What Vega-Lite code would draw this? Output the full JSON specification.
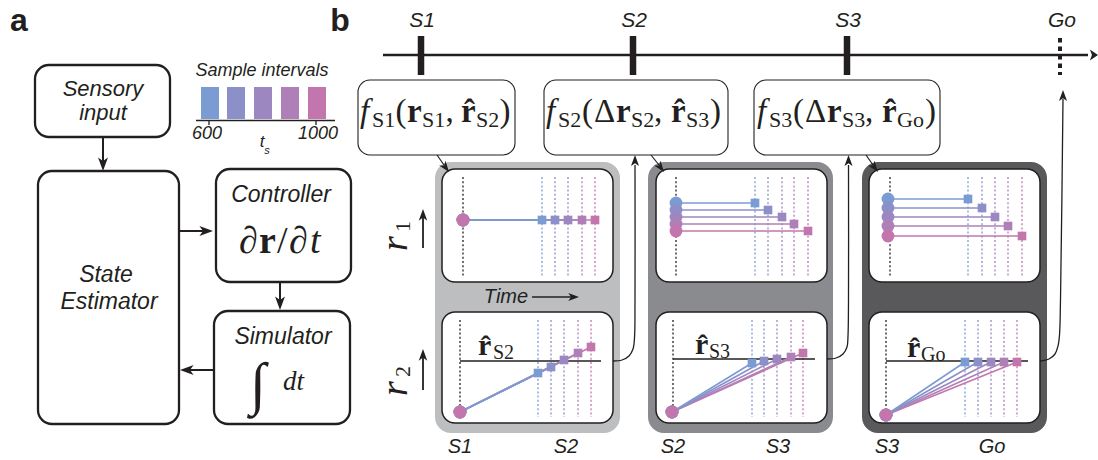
{
  "$schema": "https://vega.github.io/schema/vega-lite/v6.json",
  "width": 1098,
  "height": 460,
  "autosize": {"type": "fit", "contains": "padding"},
  "padding": 0,
  "background": "white",
  "config": {"view": {"stroke": null}},
  "encoding": {
    "x": {"field": "x", "type": "quantitative", "scale": {"domain": [0, 1098], "nice": false, "zero": false}, "axis": null},
    "y": {"field": "y", "type": "quantitative", "scale": {"domain": [460, 0], "nice": false, "zero": false}, "axis": null}
  },
  "layer": [
    {
      "data": {"values": [
        {"x": 435, "x2": 620, "y": 162, "y2": 433, "f": "#bcbec0"},
        {"x": 648, "x2": 833, "y": 162, "y2": 433, "f": "#8a8b8e"},
        {"x": 862, "x2": 1047, "y": 162, "y2": 433, "f": "#59595b"}
      ]},
      "mark": {"type": "rect", "cornerRadius": 16},
      "encoding": {
        "x2": {"field": "x2"}, "y2": {"field": "y2"},
        "fill": {"field": "f", "type": "nominal", "scale": null}
      }
    },
    {
      "data": {"values": [
        {"x": 442, "x2": 613, "y": 169, "y2": 282},
        {"x": 442, "x2": 613, "y": 312, "y2": 423},
        {"x": 656, "x2": 827, "y": 169, "y2": 282},
        {"x": 656, "x2": 827, "y": 312, "y2": 423},
        {"x": 869, "x2": 1040, "y": 169, "y2": 282},
        {"x": 869, "x2": 1040, "y": 312, "y2": 423}
      ]},
      "mark": {"type": "rect", "cornerRadius": 13, "fill": "white", "stroke": "#231f20", "strokeWidth": 1.5},
      "encoding": {"x2": {"field": "x2"}, "y2": {"field": "y2"}}
    },
    {
      "data": {"values": [
        {"x": 35, "x2": 170, "y": 65, "y2": 137},
        {"x": 38, "x2": 179, "y": 171, "y2": 424},
        {"x": 216, "x2": 351, "y": 169, "y2": 282},
        {"x": 214, "x2": 350, "y": 311, "y2": 424}
      ]},
      "mark": {"type": "rect", "cornerRadius": 14, "fill": "white", "stroke": "#231f20", "strokeWidth": 2.3},
      "encoding": {"x2": {"field": "x2"}, "y2": {"field": "y2"}}
    },
    {
      "data": {"values": [
        {"x": 358, "x2": 515, "y": 80, "y2": 155},
        {"x": 544, "x2": 728, "y": 80, "y2": 155},
        {"x": 754, "x2": 940, "y": 80, "y2": 155}
      ]},
      "mark": {"type": "rect", "cornerRadius": 12, "fill": "white", "stroke": "#231f20", "strokeWidth": 1.1},
      "encoding": {"x2": {"field": "x2"}, "y2": {"field": "y2"}}
    },
    {
      "data": {"values": [
        {"x": 201, "x2": 219, "y": 87, "y2": 119, "c": "#7b9bd3"},
        {"x": 227, "x2": 245, "y": 87, "y2": 119, "c": "#8b90c8"},
        {"x": 254, "x2": 272, "y": 87, "y2": 119, "c": "#9d87c0"},
        {"x": 281, "x2": 299, "y": 87, "y2": 119, "c": "#af80b7"},
        {"x": 308, "x2": 326, "y": 87, "y2": 119, "c": "#c376ae"}
      ]},
      "mark": {"type": "rect"},
      "encoding": {
        "x2": {"field": "x2"}, "y2": {"field": "y2"},
        "fill": {"field": "c", "type": "nominal", "scale": null}
      }
    },
    {
      "data": {"values": [
        {"x": 463, "y": 177, "y2": 277, "c": "#231f20"},
        {"x": 542, "y": 177, "y2": 277, "c": "#7b9bd3"},
        {"x": 555, "y": 177, "y2": 277, "c": "#8b90c8"},
        {"x": 568, "y": 177, "y2": 277, "c": "#9d87c0"},
        {"x": 582, "y": 177, "y2": 277, "c": "#af80b7"},
        {"x": 595, "y": 177, "y2": 277, "c": "#c376ae"},
        {"x": 460, "y": 320, "y2": 417, "c": "#231f20"},
        {"x": 538, "y": 320, "y2": 417, "c": "#7b9bd3"},
        {"x": 551, "y": 320, "y2": 417, "c": "#8b90c8"},
        {"x": 564, "y": 320, "y2": 417, "c": "#9d87c0"},
        {"x": 578, "y": 320, "y2": 417, "c": "#af80b7"},
        {"x": 591, "y": 320, "y2": 417, "c": "#c376ae"},
        {"x": 676, "y": 177, "y2": 277, "c": "#231f20"},
        {"x": 755, "y": 177, "y2": 277, "c": "#7b9bd3"},
        {"x": 768, "y": 177, "y2": 277, "c": "#8b90c8"},
        {"x": 782, "y": 177, "y2": 277, "c": "#9d87c0"},
        {"x": 794, "y": 177, "y2": 277, "c": "#af80b7"},
        {"x": 808, "y": 177, "y2": 277, "c": "#c376ae"},
        {"x": 673, "y": 320, "y2": 417, "c": "#231f20"},
        {"x": 752, "y": 320, "y2": 417, "c": "#7b9bd3"},
        {"x": 764, "y": 320, "y2": 417, "c": "#8b90c8"},
        {"x": 777, "y": 320, "y2": 417, "c": "#9d87c0"},
        {"x": 791, "y": 320, "y2": 417, "c": "#af80b7"},
        {"x": 803, "y": 320, "y2": 417, "c": "#c376ae"},
        {"x": 890, "y": 177, "y2": 277, "c": "#231f20"},
        {"x": 968, "y": 177, "y2": 277, "c": "#7b9bd3"},
        {"x": 982, "y": 177, "y2": 277, "c": "#8b90c8"},
        {"x": 995, "y": 177, "y2": 277, "c": "#9d87c0"},
        {"x": 1008, "y": 177, "y2": 277, "c": "#af80b7"},
        {"x": 1022, "y": 177, "y2": 277, "c": "#c376ae"},
        {"x": 886, "y": 320, "y2": 417, "c": "#231f20"},
        {"x": 965, "y": 320, "y2": 417, "c": "#7b9bd3"},
        {"x": 978, "y": 320, "y2": 417, "c": "#8b90c8"},
        {"x": 991, "y": 320, "y2": 417, "c": "#9d87c0"},
        {"x": 1004, "y": 320, "y2": 417, "c": "#af80b7"},
        {"x": 1017, "y": 320, "y2": 417, "c": "#c376ae"}
      ]},
      "mark": {"type": "rule", "strokeDash": [2, 2.2], "strokeWidth": 1.3},
      "encoding": {
        "y2": {"field": "y2"},
        "color": {"field": "c", "type": "nominal", "scale": null}
      }
    },
    {
      "data": {"values": [
        {"x": 383, "y": 55, "x2": 1088, "y2": 55, "w": 2.6},
        {"x": 421, "y": 36, "x2": 421, "y2": 75, "w": 6.5},
        {"x": 633, "y": 36, "x2": 633, "y2": 75, "w": 6.5},
        {"x": 847, "y": 36, "x2": 847, "y2": 75, "w": 6.5},
        {"x": 196, "y": 120.5, "x2": 335, "y2": 120.5, "w": 1.6},
        {"x": 209, "y": 120, "x2": 209, "y2": 125, "w": 1.3},
        {"x": 316, "y": 120, "x2": 316, "y2": 125, "w": 1.3},
        {"x": 103, "y": 137, "x2": 103, "y2": 163, "w": 2},
        {"x": 179, "y": 231, "x2": 205, "y2": 231, "w": 2},
        {"x": 280, "y": 282, "x2": 280, "y2": 302, "w": 2},
        {"x": 214, "y": 370, "x2": 188, "y2": 370, "w": 2},
        {"x": 532, "y": 297, "x2": 572, "y2": 297, "w": 1.5},
        {"x": 423, "y": 248, "x2": 423, "y2": 217, "w": 1.8},
        {"x": 423, "y": 390, "x2": 423, "y2": 357, "w": 1.8},
        {"x": 437, "y": 155, "x2": 444, "y2": 165, "w": 1.2},
        {"x": 651, "y": 155, "x2": 659, "y2": 165, "w": 1.2},
        {"x": 866, "y": 155, "x2": 873, "y2": 165, "w": 1.2},
        {"x": 460, "y": 361, "x2": 601, "y2": 361, "w": 1.3},
        {"x": 673, "y": 359, "x2": 815, "y2": 359, "w": 1.3},
        {"x": 886, "y": 361, "x2": 1028, "y2": 361, "w": 1.3}
      ]},
      "mark": {"type": "rule", "color": "#231f20"},
      "encoding": {
        "x2": {"field": "x2"}, "y2": {"field": "y2"},
        "strokeWidth": {"field": "w", "type": "quantitative", "scale": null}
      }
    },
    {
      "data": {"values": [{"x": 1060, "y": 38, "y2": 75}]},
      "mark": {"type": "rule", "color": "#231f20", "strokeWidth": 4, "strokeDash": [4.5, 4]},
      "encoding": {"y2": {"field": "y2"}}
    },
    {
      "data": {"values": [
        {"x": 463, "y": 220, "x2": 595, "y2": 220, "c": "#c376ae"},
        {"x": 463, "y": 220, "x2": 582, "y2": 220, "c": "#af80b7"},
        {"x": 463, "y": 220, "x2": 568, "y2": 220, "c": "#9d87c0"},
        {"x": 463, "y": 220, "x2": 555, "y2": 220, "c": "#8b90c8"},
        {"x": 463, "y": 220, "x2": 542, "y2": 220, "c": "#7b9bd3"},
        {"x": 460, "y": 412, "x2": 591, "y2": 347, "c": "#c376ae"},
        {"x": 460, "y": 412, "x2": 578, "y2": 353, "c": "#af80b7"},
        {"x": 460, "y": 412, "x2": 564, "y2": 360, "c": "#9d87c0"},
        {"x": 460, "y": 412, "x2": 551, "y2": 367, "c": "#8b90c8"},
        {"x": 460, "y": 412, "x2": 538, "y2": 373, "c": "#7b9bd3"},
        {"x": 676, "y": 231, "x2": 808, "y2": 231, "c": "#c376ae"},
        {"x": 676, "y": 224, "x2": 794, "y2": 224, "c": "#af80b7"},
        {"x": 676, "y": 217, "x2": 782, "y2": 217, "c": "#9d87c0"},
        {"x": 676, "y": 210, "x2": 768, "y2": 210, "c": "#8b90c8"},
        {"x": 676, "y": 203, "x2": 755, "y2": 203, "c": "#7b9bd3"},
        {"x": 672, "y": 412, "x2": 803, "y2": 353, "c": "#c376ae"},
        {"x": 672, "y": 412, "x2": 791, "y2": 357, "c": "#af80b7"},
        {"x": 672, "y": 412, "x2": 777, "y2": 359, "c": "#9d87c0"},
        {"x": 672, "y": 412, "x2": 764, "y2": 361, "c": "#8b90c8"},
        {"x": 672, "y": 412, "x2": 752, "y2": 363, "c": "#7b9bd3"},
        {"x": 888, "y": 236, "x2": 1022, "y2": 236, "c": "#c376ae"},
        {"x": 888, "y": 226, "x2": 1008, "y2": 226, "c": "#af80b7"},
        {"x": 888, "y": 217, "x2": 995, "y2": 217, "c": "#9d87c0"},
        {"x": 888, "y": 208, "x2": 982, "y2": 208, "c": "#8b90c8"},
        {"x": 888, "y": 199, "x2": 968, "y2": 199, "c": "#7b9bd3"},
        {"x": 886, "y": 415, "x2": 1017, "y2": 362, "c": "#c376ae"},
        {"x": 886, "y": 415, "x2": 1004, "y2": 362, "c": "#af80b7"},
        {"x": 886, "y": 415, "x2": 991, "y2": 362, "c": "#9d87c0"},
        {"x": 886, "y": 415, "x2": 978, "y2": 362, "c": "#8b90c8"},
        {"x": 886, "y": 415, "x2": 965, "y2": 362, "c": "#7b9bd3"}
      ]},
      "mark": {"type": "rule", "strokeWidth": 1.6},
      "encoding": {
        "x2": {"field": "x2"}, "y2": {"field": "y2"},
        "color": {"field": "c", "type": "nominal", "scale": null}
      }
    },
    {
      "data": {"values": [
        {"g": 1, "o": 1, "x": 613, "y": 361}, {"g": 1, "o": 2, "x": 622, "y": 360}, {"g": 1, "o": 3, "x": 629, "y": 356},
        {"g": 1, "o": 4, "x": 633, "y": 349}, {"g": 1, "o": 5, "x": 634.5, "y": 338}, {"g": 1, "o": 6, "x": 635, "y": 300}, {"g": 1, "o": 7, "x": 635, "y": 165},
        {"g": 2, "o": 1, "x": 827, "y": 359}, {"g": 2, "o": 2, "x": 836, "y": 358}, {"g": 2, "o": 3, "x": 843, "y": 354},
        {"g": 2, "o": 4, "x": 847, "y": 347}, {"g": 2, "o": 5, "x": 848, "y": 336}, {"g": 2, "o": 6, "x": 848.5, "y": 300}, {"g": 2, "o": 7, "x": 848.5, "y": 165},
        {"g": 3, "o": 1, "x": 1040, "y": 361}, {"g": 3, "o": 2, "x": 1049, "y": 359}, {"g": 3, "o": 3, "x": 1055, "y": 354},
        {"g": 3, "o": 4, "x": 1058, "y": 346}, {"g": 3, "o": 5, "x": 1059.5, "y": 335}, {"g": 3, "o": 6, "x": 1060.5, "y": 300}, {"g": 3, "o": 7, "x": 1063, "y": 99}
      ]},
      "mark": {"type": "line", "interpolate": "catmull-rom", "color": "#231f20", "strokeWidth": 1.3},
      "encoding": {
        "detail": {"field": "g", "type": "nominal"},
        "order": {"field": "o", "type": "quantitative"}
      }
    },
    {
      "data": {"values": [
        {"x": 463, "y": 220, "c": "#7b9bd3"}, {"x": 463, "y": 220, "c": "#8b90c8"}, {"x": 463, "y": 220, "c": "#9d87c0"}, {"x": 463, "y": 220, "c": "#af80b7"}, {"x": 463, "y": 220, "c": "#c376ae"},
        {"x": 460, "y": 412, "c": "#7b9bd3"}, {"x": 460, "y": 412, "c": "#8b90c8"}, {"x": 460, "y": 412, "c": "#9d87c0"}, {"x": 460, "y": 412, "c": "#af80b7"}, {"x": 460, "y": 412, "c": "#c376ae"},
        {"x": 676, "y": 203, "c": "#7b9bd3"}, {"x": 676, "y": 210, "c": "#8b90c8"}, {"x": 676, "y": 217, "c": "#9d87c0"}, {"x": 676, "y": 224, "c": "#af80b7"}, {"x": 676, "y": 231, "c": "#c376ae"},
        {"x": 672, "y": 412, "c": "#7b9bd3"}, {"x": 672, "y": 412, "c": "#8b90c8"}, {"x": 672, "y": 412, "c": "#9d87c0"}, {"x": 672, "y": 412, "c": "#af80b7"}, {"x": 672, "y": 412, "c": "#c376ae"},
        {"x": 888, "y": 199, "c": "#7b9bd3"}, {"x": 888, "y": 208, "c": "#8b90c8"}, {"x": 888, "y": 217, "c": "#9d87c0"}, {"x": 888, "y": 226, "c": "#af80b7"}, {"x": 888, "y": 236, "c": "#c376ae"},
        {"x": 886, "y": 415, "c": "#7b9bd3"}, {"x": 886, "y": 415, "c": "#8b90c8"}, {"x": 886, "y": 415, "c": "#9d87c0"}, {"x": 886, "y": 415, "c": "#af80b7"}, {"x": 886, "y": 415, "c": "#c376ae"}
      ]},
      "mark": {"type": "point", "shape": "circle", "filled": true, "size": 165, "opacity": 1, "strokeWidth": 0},
      "encoding": {"color": {"field": "c", "type": "nominal", "scale": null}}
    },
    {
      "data": {"values": [
        {"x": 542, "y": 220, "c": "#7b9bd3"}, {"x": 555, "y": 220, "c": "#8b90c8"}, {"x": 568, "y": 220, "c": "#9d87c0"}, {"x": 582, "y": 220, "c": "#af80b7"}, {"x": 595, "y": 220, "c": "#c376ae"},
        {"x": 538, "y": 373, "c": "#7b9bd3"}, {"x": 551, "y": 367, "c": "#8b90c8"}, {"x": 564, "y": 360, "c": "#9d87c0"}, {"x": 578, "y": 353, "c": "#af80b7"}, {"x": 591, "y": 347, "c": "#c376ae"},
        {"x": 755, "y": 203, "c": "#7b9bd3"}, {"x": 768, "y": 210, "c": "#8b90c8"}, {"x": 782, "y": 217, "c": "#9d87c0"}, {"x": 794, "y": 224, "c": "#af80b7"}, {"x": 808, "y": 231, "c": "#c376ae"},
        {"x": 752, "y": 363, "c": "#7b9bd3"}, {"x": 764, "y": 361, "c": "#8b90c8"}, {"x": 777, "y": 359, "c": "#9d87c0"}, {"x": 791, "y": 357, "c": "#af80b7"}, {"x": 803, "y": 353, "c": "#c376ae"},
        {"x": 968, "y": 199, "c": "#7b9bd3"}, {"x": 982, "y": 208, "c": "#8b90c8"}, {"x": 995, "y": 217, "c": "#9d87c0"}, {"x": 1008, "y": 226, "c": "#af80b7"}, {"x": 1022, "y": 236, "c": "#c376ae"},
        {"x": 965, "y": 362, "c": "#7b9bd3"}, {"x": 978, "y": 362, "c": "#8b90c8"}, {"x": 991, "y": 362, "c": "#9d87c0"}, {"x": 1004, "y": 362, "c": "#af80b7"}, {"x": 1017, "y": 362, "c": "#c376ae"}
      ]},
      "mark": {"type": "point", "shape": "square", "filled": true, "size": 75, "opacity": 1, "strokeWidth": 0},
      "encoding": {"color": {"field": "c", "type": "nominal", "scale": null}}
    },
    {
      "data": {"values": [
        {"x": 103, "y": 171, "a": 180, "s": 256},
        {"x": 213, "y": 231, "a": 90, "s": 256},
        {"x": 280, "y": 310, "a": 180, "s": 256},
        {"x": 180, "y": 370, "a": 270, "s": 256},
        {"x": 579, "y": 297, "a": 90, "s": 160},
        {"x": 423, "y": 209, "a": 0, "s": 190},
        {"x": 423, "y": 349, "a": 0, "s": 190},
        {"x": 449, "y": 172, "a": 143, "s": 170},
        {"x": 664, "y": 172, "a": 143, "s": 170},
        {"x": 878, "y": 172, "a": 143, "s": 170},
        {"x": 635, "y": 155, "a": 0, "s": 170},
        {"x": 848.5, "y": 155, "a": 0, "s": 170},
        {"x": 1063, "y": 90, "a": 0, "s": 170}
      ]},
      "mark": {"type": "point", "shape": "M0,0L0.62,1.7L0,1.25L-0.62,1.7Z", "filled": true, "opacity": 1, "color": "#231f20", "strokeWidth": 0},
      "encoding": {
        "angle": {"field": "a", "type": "quantitative", "scale": null},
        "size": {"field": "s", "type": "quantitative", "scale": null}
      }
    },
    {
      "data": {"values": [{"x": 1098, "y": 55, "a": 90, "s": 110}]},
      "mark": {"type": "point", "shape": "M0,0L1.05,1.55L0,1.15L-1.05,1.55Z", "filled": true, "opacity": 1, "color": "#231f20", "strokeWidth": 0},
      "encoding": {
        "angle": {"field": "a", "type": "quantitative", "scale": null},
        "size": {"field": "s", "type": "quantitative", "scale": null}
      }
    },
    {
      "data": {"values": [
        {"x": 103, "y": 89, "t": "Sensory", "s": 22},
        {"x": 103, "y": 113, "t": "input", "s": 22},
        {"x": 262, "y": 71, "t": "Sample intervals", "s": 18},
        {"x": 207, "y": 134, "t": "600", "s": 18},
        {"x": 318, "y": 134, "t": "1000", "s": 18},
        {"x": 262, "y": 142, "t": "t", "s": 17},
        {"x": 267, "y": 151, "t": "s", "s": 11},
        {"x": 281, "y": 195, "t": "Controller", "s": 23},
        {"x": 106, "y": 275, "t": "State", "s": 23},
        {"x": 109, "y": 302, "t": "Estimator", "s": 23},
        {"x": 283, "y": 337, "t": "Simulator", "s": 23},
        {"x": 422, "y": 21, "t": "S1", "s": 21},
        {"x": 634, "y": 21, "t": "S2", "s": 21},
        {"x": 848, "y": 21, "t": "S3", "s": 21},
        {"x": 1062, "y": 21, "t": "Go", "s": 21},
        {"x": 506, "y": 297, "t": "Time", "s": 20},
        {"x": 460, "y": 447, "t": "S1", "s": 20},
        {"x": 566, "y": 447, "t": "S2", "s": 20},
        {"x": 673, "y": 447, "t": "S2", "s": 20},
        {"x": 778, "y": 447, "t": "S3", "s": 20},
        {"x": 887, "y": 447, "t": "S3", "s": 20},
        {"x": 992, "y": 447, "t": "Go", "s": 20}
      ]},
      "mark": {"type": "text", "font": "Liberation Sans", "fontStyle": "italic", "align": "center", "baseline": "middle", "color": "#231f20"},
      "encoding": {
        "text": {"field": "t"},
        "size": {"field": "s", "type": "quantitative", "scale": null}
      }
    },
    {
      "data": {"values": [
        {"x": 19, "y": 31, "t": "a", "s": 32},
        {"x": 340, "y": 31, "t": "b", "s": 32}
      ]},
      "mark": {"type": "text", "font": "Liberation Sans", "fontWeight": "bold", "align": "center", "baseline": "alphabetic", "color": "#231f20"},
      "encoding": {
        "text": {"field": "t"},
        "size": {"field": "s", "type": "quantitative", "scale": null}
      }
    },
    {
      "data": {"values": [
        {"x": 360, "y": 122, "t": "f", "s": 33},
        {"x": 546, "y": 122, "t": "f", "s": 33},
        {"x": 757, "y": 122, "t": "f", "s": 33},
        {"x": 239, "y": 253, "t": "\u2202", "s": 38},
        {"x": 289, "y": 253, "t": "\u2202", "s": 38},
        {"x": 310, "y": 253, "t": "t", "s": 38},
        {"x": 283, "y": 390, "t": "dt", "s": 27}
      ]},
      "mark": {"type": "text", "font": "Liberation Serif", "fontStyle": "italic", "align": "left", "baseline": "alphabetic", "color": "#231f20"},
      "encoding": {
        "text": {"field": "t"},
        "size": {"field": "s", "type": "quantitative", "scale": null}
      }
    },
    {
      "data": {"values": [
        {"x": 372, "y": 127, "t": "S1", "s": 22},
        {"x": 395.5, "y": 122, "t": "(", "s": 33},
        {"x": 422, "y": 127, "t": "S1", "s": 22},
        {"x": 445.5, "y": 122, "t": ",", "s": 33},
        {"x": 476, "y": 127, "t": "S2", "s": 22},
        {"x": 499.5, "y": 122, "t": ")", "s": 33},
        {"x": 558, "y": 127, "t": "S2", "s": 22},
        {"x": 582, "y": 122, "t": "(", "s": 33},
        {"x": 594, "y": 122, "t": "\u0394", "s": 33},
        {"x": 631, "y": 127, "t": "S2", "s": 22},
        {"x": 654, "y": 122, "t": ",", "s": 33},
        {"x": 686, "y": 127, "t": "S3", "s": 22},
        {"x": 710, "y": 122, "t": ")", "s": 33},
        {"x": 769, "y": 127, "t": "S3", "s": 22},
        {"x": 793, "y": 122, "t": "(", "s": 33},
        {"x": 805, "y": 122, "t": "\u0394", "s": 33},
        {"x": 842, "y": 127, "t": "S3", "s": 22},
        {"x": 865, "y": 122, "t": ",", "s": 33},
        {"x": 897, "y": 127, "t": "Go", "s": 22},
        {"x": 925, "y": 122, "t": ")", "s": 33},
        {"x": 277, "y": 253, "t": "/", "s": 38},
        {"x": 250, "y": 403, "t": "\u222b", "s": 58},
        {"x": 493, "y": 359, "t": "S2", "s": 20},
        {"x": 709, "y": 358, "t": "S3", "s": 20},
        {"x": 921, "y": 361, "t": "Go", "s": 20}
      ]},
      "mark": {"type": "text", "font": "Liberation Serif", "align": "left", "baseline": "alphabetic", "color": "#231f20"},
      "encoding": {
        "text": {"field": "t"},
        "size": {"field": "s", "type": "quantitative", "scale": null}
      }
    },
    {
      "data": {"values": [
        {"x": 407, "y": 122, "t": "r", "s": 33},
        {"x": 461, "y": 122, "t": "r\u0302", "s": 33},
        {"x": 616, "y": 122, "t": "r", "s": 33},
        {"x": 671, "y": 122, "t": "r\u0302", "s": 33},
        {"x": 827, "y": 122, "t": "r", "s": 33},
        {"x": 882, "y": 122, "t": "r\u0302", "s": 33},
        {"x": 259, "y": 253, "t": "r", "s": 38},
        {"x": 478, "y": 355, "t": "r\u0302", "s": 30},
        {"x": 695, "y": 354, "t": "r\u0302", "s": 30},
        {"x": 907, "y": 357, "t": "r\u0302", "s": 30}
      ]},
      "mark": {"type": "text", "font": "Liberation Serif", "fontWeight": "bold", "align": "left", "baseline": "alphabetic", "color": "#231f20"},
      "encoding": {
        "text": {"field": "t"},
        "size": {"field": "s", "type": "quantitative", "scale": null}
      }
    },
    {
      "data": {"values": [
        {"x": 407, "y": 251, "t": "r", "s": 38},
        {"x": 407, "y": 396, "t": "r", "s": 38}
      ]},
      "mark": {"type": "text", "font": "Liberation Serif", "fontStyle": "italic", "align": "left", "baseline": "alphabetic", "angle": 270, "color": "#231f20"},
      "encoding": {
        "text": {"field": "t"},
        "size": {"field": "s", "type": "quantitative", "scale": null}
      }
    },
    {
      "data": {"values": [
        {"x": 410, "y": 232, "t": "1", "s": 22},
        {"x": 410, "y": 377, "t": "2", "s": 22}
      ]},
      "mark": {"type": "text", "font": "Liberation Serif", "align": "left", "baseline": "alphabetic", "angle": 270, "color": "#231f20"},
      "encoding": {
        "text": {"field": "t"},
        "size": {"field": "s", "type": "quantitative", "scale": null}
      }
    }
  ]
}
